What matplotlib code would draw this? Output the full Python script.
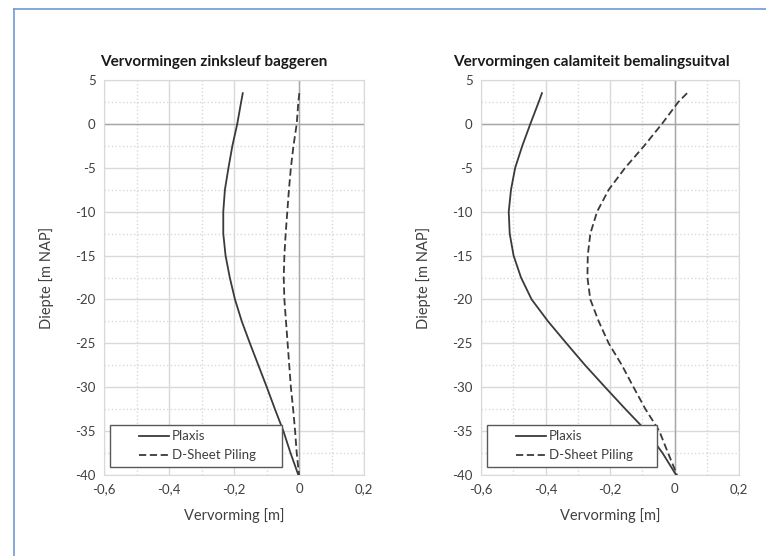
# coding:utf-8
# Vervormingen damwand: Plaxis vs D-Sheet Piling, twee situaties naast elkaar.
# how to use: python plot.py  -> out.png

import matplotlib.pyplot as plt
from matplotlib.ticker import MultipleLocator, FuncFormatter
from matplotlib.patches import Rectangle

#[data]
depth = [3.5, 2.5, 0, -2.5, -5, -7.5, -10, -12.5, -15, -17.5, -20,
         -22.5, -25, -27.5, -30, -32.5, -35, -37.5, -40]

# zinksleuf baggeren
plaxis_zink = [-0.173, -0.178, -0.190, -0.205, -0.217, -0.228, -0.233, -0.233, -0.226, -0.213,
               -0.197, -0.176, -0.151, -0.125, -0.099, -0.074, -0.048, -0.026, -0.002]
dsheet_zink = [0.001, -0.002, -0.007, -0.017, -0.025, -0.031, -0.036, -0.041, -0.045, -0.047,
               -0.045, -0.040, -0.035, -0.030, -0.025, -0.018, -0.012, -0.007, 0.0]

# calamiteit bemalingsuitval
plaxis_cal = [-0.411, -0.421, -0.447, -0.472, -0.494, -0.507, -0.514, -0.511, -0.499, -0.476,
              -0.443, -0.392, -0.335, -0.277, -0.215, -0.152, -0.087, -0.037, 0.005]
dsheet_cal = [0.039, 0.012, -0.039, -0.094, -0.153, -0.204, -0.240, -0.261, -0.269, -0.270,
              -0.261, -0.235, -0.204, -0.163, -0.127, -0.090, -0.047, -0.020, 0.008]

titles = ["Vervormingen zinksleuf baggeren", "Vervormingen calamiteit bemalingsuitval"]
series_names = ["Plaxis", "D-Sheet Piling"]

#[style]
W, H = 766, 556
font = ["Lato", "DejaVu Sans"]
txt_col = "#404040"
grid_col = "#d9d9d9"
line_col = "#3a3a3a"

plt.rcParams['font.family'] = font
plt.rcParams['axes.unicode_minus'] = False


def comma_fmt(v, pos):
    if abs(v) < 1e-9:
        return "0"
    return ("%.1f" % v).replace(".", ",")


def setup_axes(ax):
    ax.set_xlim(-0.6, 0.2)
    ax.set_ylim(-40, 5)
    ax.xaxis.set_major_locator(MultipleLocator(0.2))
    ax.xaxis.set_minor_locator(MultipleLocator(0.1))
    ax.yaxis.set_major_locator(MultipleLocator(5))
    ax.yaxis.set_minor_locator(MultipleLocator(2.5))
    ax.xaxis.set_major_formatter(FuncFormatter(comma_fmt))
    ax.grid(which="major", color=grid_col, lw=1.0, ls="-")
    ax.grid(which="minor", color=grid_col, lw=1.0, ls=":")
    ax.set_axisbelow(True)
    ax.tick_params(which="both", length=0, labelsize=9.5, colors=txt_col, pad=6)
    for sp in ax.spines.values():
        sp.set_color(grid_col)
    ax.axhline(0, color="#a6a6a6", lw=1.0, zorder=1)
    ax.axvline(0, color="#a6a6a6", lw=1.0, zorder=1)


fig = plt.figure(figsize=(W / 100, H / 100), dpi=100)

# blauwe kader rond de figuur
fig.add_artist(plt.Line2D([14 / W, 14 / W], [0, 1 - 9 / H], color="#6f98d4", lw=1.2))
fig.add_artist(plt.Line2D([14 / W, 1], [1 - 9 / H, 1 - 9 / H], color="#6f98d4", lw=1.2))

ax_pos = [(104, 260), (481, 258)]   # linkerrand en breedte in pixels
title_x = [214, 591]
data = [(plaxis_zink, dsheet_zink), (plaxis_cal, dsheet_cal)]

for i in range(2):
    x0, w = ax_pos[i]
    ax = fig.add_axes([x0 / W, 1 - 475 / H, w / W, 395 / H])
    setup_axes(ax)
    pl, ds = data[i]
    h1, = ax.plot(pl, depth, color=line_col, lw=1.3, ls="-", zorder=3)
    h2, = ax.plot(ds, depth, color=line_col, lw=1.3, ls=(0, (4, 2)), zorder=3)

    # legenda met kader zoals in Excel
    box = Rectangle((0.023, 0.021), 0.66, 0.106, transform=ax.transAxes,
                    facecolor="white", edgecolor="#595959", lw=1.0, zorder=4)
    ax.add_patch(box)
    leg = ax.legend([h1, h2], series_names, loc="center left",
                    bbox_to_anchor=(0.135, 0.074), frameon=False, fontsize=9.5,
                    handlelength=2.3, handletextpad=0.2, labelspacing=0.55,
                    borderpad=0, borderaxespad=0)
    leg.set_zorder(5)
    for t in leg.get_texts():
        t.set_color(txt_col)

    fig.text(title_x[i] / W, 1 - 62 / H, titles[i], ha="center", va="center",
             fontsize=11, fontweight="bold", color="#1a1a1a")
    fig.text((x0 + w / 2) / W, 1 - 516 / H, "Vervorming [m]", ha="center", va="center",
             fontsize=10.5, color=txt_col)
    fig.text((x0 - 57) / W, 1 - 278 / H, "Diepte [m NAP]", ha="center", va="center",
             rotation=90, fontsize=10.5, color=txt_col)

fig.savefig("out.png", dpi=100)
